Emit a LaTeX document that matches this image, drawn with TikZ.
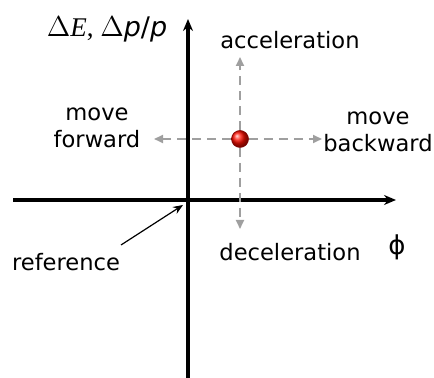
\documentclass[tikz,border=0pt]{standalone}
\usepackage{fontspec}
\setmainfont{DejaVu Sans}
\newfontfamily\serifit{Liberation Serif}
\usetikzlibrary{arrows.meta}
\begin{document}
\begin{tikzpicture}[x=0.5pt,y=-0.5pt,
  axis/.style={line width=1.6pt,-{Stealth[length=6pt,width=5pt]}},
  dsh/.style={draw=gray!75,line width=0.9pt,dash pattern=on 4.5pt off 3pt,-{Triangle[length=4.5pt,width=4pt]}},
  lbl/.style={font=\fontsize{11.3}{13.5}\selectfont,align=center,inner sep=0pt}]
\useasboundingbox (0,0) rectangle (434,378);
\coordinate (xs) at (13,200);
\coordinate (xe) at (396,200);
\coordinate (ys) at (188,378);
\coordinate (ye) at (188,19);
\draw[axis] (xs) -- (xe);
\draw[axis] (ys) -- (ye);
\node[circle,inner sep=0pt,minimum size=8.5pt,ball color=red!90!orange,draw=red!50!black,line width=0.3pt] (dot) at (240,139) {};
\coordinate (up) at (240,57);
\coordinate (dn) at (240,229);
\coordinate (lf) at (154,139);
\coordinate (rt) at (322,139);
\draw[dsh] (dot) -- (up);
\draw[dsh] (dot) -- (dn);
\draw[dsh] (dot) -- (lf);
\draw[dsh] (dot) -- (rt);
\node[lbl] (acc) at (290,40) {acceleration};
\node[lbl] (dec) at (290,252) {deceleration};
\node[lbl] (fwd) at (97,128) {move\\forward};
\node[lbl] (bwd) at (378,132) {move\\backward};
\node[lbl] (ref) at (66,262) {reference};
\node[inner sep=0pt,font=\fontsize{13}{14}\selectfont] (phi) at (397,247) {ϕ};
\node[inner sep=0pt,font=\fontsize{13.5}{15}\selectfont] (lab) at (107,29) {{\serifit$\Delta$\textit{E}, $\Delta$}\textit{p}/\textit{p}};
\coordinate (ori) at (183,205);
\draw[line width=0.6pt,-{Stealth[length=5pt,width=4pt]}] (121,245) -- (ori);
\end{tikzpicture}
\end{document}
